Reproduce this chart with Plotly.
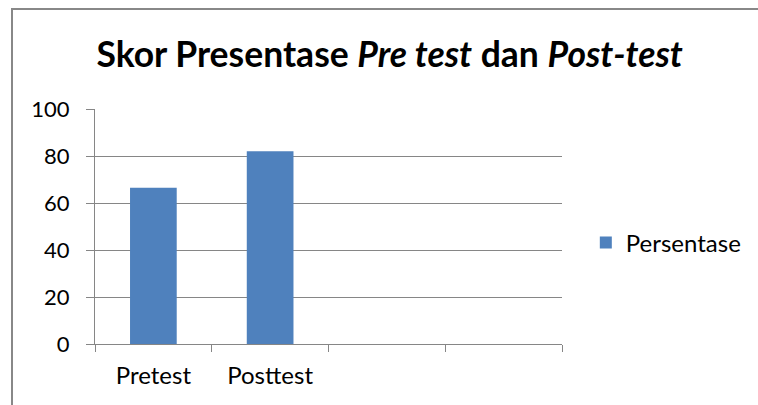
import plotly.graph_objects as go

# ── Data ──────────────────────────────────────────────────────────────────────
categories = ["Pretest", "Posttest", " ", "  "]
persentase = [66.5, 82.0]
y_ticks = [0, 20, 40, 60, 80, 100]

BLUE = "#4F81BD"
GRID = "#868686"
FONT = "Lato, Carlito, Calibri, sans-serif"

fig = go.Figure()
fig.add_bar(
    x=categories[:len(persentase)], y=persentase,
    name="Persentase", marker_color=BLUE, marker_line_width=0,
    width=0.4,
)

fig.update_layout(
    width=758, height=405,
    paper_bgcolor="white", plot_bgcolor="white",
    margin=dict(l=95, r=196, t=109, b=61, autoexpand=False),
    font=dict(family=FONT, size=22, color="black"),
    title=dict(
        text="<b>Skor Presentase <i>Pre test</i> dan <i>Post-test</i></b>",
        font=dict(family=FONT, size=35.5, color="black"),
        xref="container", yref="container",
        x=0.514, y=1 - 55 / 405, xanchor="center", yanchor="middle",
    ),
    showlegend=True,
    legend=dict(
        x=1.051, y=0.43, xanchor="left", yanchor="middle",
        font=dict(family=FONT, size=24), bgcolor="rgba(0,0,0,0)",
    ),
)

fig.update_xaxes(
    type="category", categoryorder="array", categoryarray=categories,
    range=[-0.5, len(categories) - 0.5],
    showline=True, linecolor=GRID, linewidth=1.3,
    ticks="outside", tickson="boundaries", ticklen=7, tickcolor=GRID,
    showgrid=False, tickfont=dict(size=24), ticklabelstandoff=10,
    automargin=False,
)
fig.update_yaxes(
    range=[0, 100], tickvals=y_ticks,
    showline=True, linecolor=GRID, linewidth=1.3,
    showgrid=True, gridcolor=GRID, gridwidth=1.3,
    ticks="outside", ticklen=8, tickcolor=GRID,
    zeroline=False, tickfont=dict(size=22), ticklabelstandoff=12,
    automargin=False,
)

# outer chart border (only top & left visible in the crop)
fig.add_shape(
    type="rect", xref="paper", yref="paper",
    x0=(12 - 95) / 467, x1=(800 - 95) / 467,
    y0=(344 - 440) / 235, y1=(344 - 9) / 235,
    line=dict(color="#888888", width=2), fillcolor="rgba(0,0,0,0)",
    layer="below",
)

fig.write_html("out.html", config={"displayModeBar": False},
               post_script="document.body.style.margin='0';")
